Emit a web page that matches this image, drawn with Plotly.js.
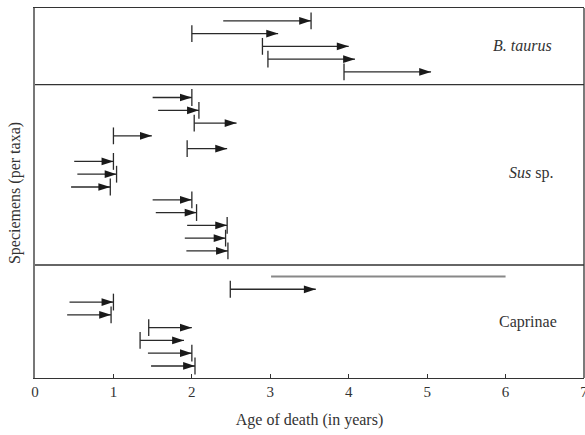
<!DOCTYPE html>
<html>
<head>
<meta charset="utf-8">
<script src="https://cdn.plot.ly/plotly-3.0.1.min.js"></script>
<style>html,body{margin:0;padding:0;background:#fff}#chart{width:585px;height:435px}</style>
</head>
<body>
<div id="chart"></div>
<script>
// Specimen rows (index from top), age range start/end (years), and mark kind:
// 'min' = bar at start, arrow pointing to end; 'max' = arrow ending at bar; 'range' = plain line
const rows   = [1, 2, 3, 4, 5,
                7, 8, 9, 10, 11, 12, 13, 14, 15, 16, 17, 18, 19,
                21, 22, 23, 24, 25, 26, 27, 28];
const starts = [2.40, 2.00, 2.90, 2.97, 3.94,
                1.50, 1.57, 2.03, 1.00, 1.94, 0.50, 0.54, 0.46, 1.50, 1.54, 1.94, 1.91, 1.93,
                3.01, 2.49, 0.44, 0.41, 1.45, 1.34, 1.44, 1.48];
const ends   = [3.52, 3.10, 4.00, 4.08, 5.05,
                2.00, 2.09, 2.57, 1.49, 2.45, 1.00, 1.04, 0.96, 2.00, 2.06, 2.45, 2.43, 2.46,
                6.00, 3.58, 1.00, 0.97, 2.00, 1.90, 2.00, 2.04];
const kinds  = ['max', 'min', 'min', 'min', 'min',
                'max', 'max', 'min', 'min', 'min', 'max', 'max', 'max', 'max', 'max', 'max', 'max', 'max',
                'range', 'min', 'max', 'max', 'min', 'min', 'max', 'max'];
const taxa       = ['<i>B. taurus</i>', '<i>Sus</i> sp.', 'Caprinae'];
const taxaLabelX = [6.22, 6.32, 6.28];
const taxaLabelY = [2.9, 12.9, 24.55];
const xTicks = [0, 1, 2, 3, 4, 5, 6, 7];

const FONT = '"Liberation Serif", "Times New Roman", serif';
const INK = '#2a2a2a';

// shafts
const lx = [], ly = [], gx = [], gy = [];
const tipX = [], tipY = [], barX = [], barY = [];
rows.forEach((r, i) => {
  if (kinds[i] === 'range') { gx.push(starts[i], ends[i], null); gy.push(r, r, null); return; }
  lx.push(starts[i], ends[i], null); ly.push(r, r, null);
  tipX.push(ends[i]); tipY.push(r);
  barX.push(kinds[i] === 'min' ? starts[i] : ends[i]); barY.push(r);
});

const traces = [
  {type: 'scatter', mode: 'lines', x: lx, y: ly, line: {color: INK, width: 1.3}, hoverinfo: 'skip', showlegend: false},
  {type: 'scatter', mode: 'lines', x: gx, y: gy, line: {color: '#888', width: 2.2}, hoverinfo: 'skip', showlegend: false},
  {type: 'scatter', mode: 'markers', x: barX, y: barY, marker: {symbol: 'line-ns-open', size: 12, color: INK, line: {color: INK, width: 1.3}}, hoverinfo: 'skip', showlegend: false},
  {type: 'scatter', mode: 'markers', x: tipX, y: tipY, marker: {symbol: 'arrow', angle: 90, size: 12.5, color: '#1a1a1a', line: {width: 0}}, hoverinfo: 'skip', showlegend: false}
];

const layout = {
  width: 585, height: 435,
  margin: {l: 35, r: 1, t: 8, b: 57},
  paper_bgcolor: '#fff', plot_bgcolor: '#fff',
  font: {family: FONT, color: INK, size: 14},
  xaxis: {
    range: [0, 7], tickvals: xTicks, ticktext: xTicks.map(String),
    ticks: 'inside', ticklen: 4, tickcolor: '#333', tickwidth: 1,
    ticklabeloverflow: 'allow',
    showline: true, linecolor: '#333', linewidth: 1.3, mirror: true,
    showgrid: false, zeroline: false,
    tickfont: {family: FONT, size: 15, color: '#333'},
    title: {text: 'Age of death (in years)', font: {family: FONT, size: 16, color: '#333'}, standoff: 14}
  },
  yaxis: {
    range: [28.94, 0], showticklabels: false, ticks: '',
    showline: true, linecolor: '#777', linewidth: 2, mirror: false,
    showgrid: false, zeroline: false,
    title: {text: 'Speciemens (per taxa)', font: {family: FONT, size: 16, color: '#333'}, standoff: 8}
  },
  shapes: [
    {type: 'line', xref: 'paper', yref: 'y', x0: 0, x1: 1, y0: 6.0, y1: 6.0, line: {color: '#333', width: 1.3}},
    {type: 'line', xref: 'paper', yref: 'y', x0: 0, x1: 1, y0: 20.1, y1: 20.1, line: {color: '#333', width: 1.3}},
    {type: 'line', xref: 'paper', yref: 'paper', x0: 1, x1: 1, y0: 0, y1: 1, line: {color: '#333', width: 1.3}}
  ],
  annotations: taxa.map((t, i) => ({
    x: taxaLabelX[i], y: taxaLabelY[i], xref: 'x', yref: 'y', text: t, showarrow: false,
    font: {family: FONT, size: 16, color: '#333'}, xanchor: 'center', yanchor: 'middle'
  }))
};

Plotly.newPlot('chart', traces, layout, {displayModeBar: false, staticPlot: true});
</script>
</body>
</html>
